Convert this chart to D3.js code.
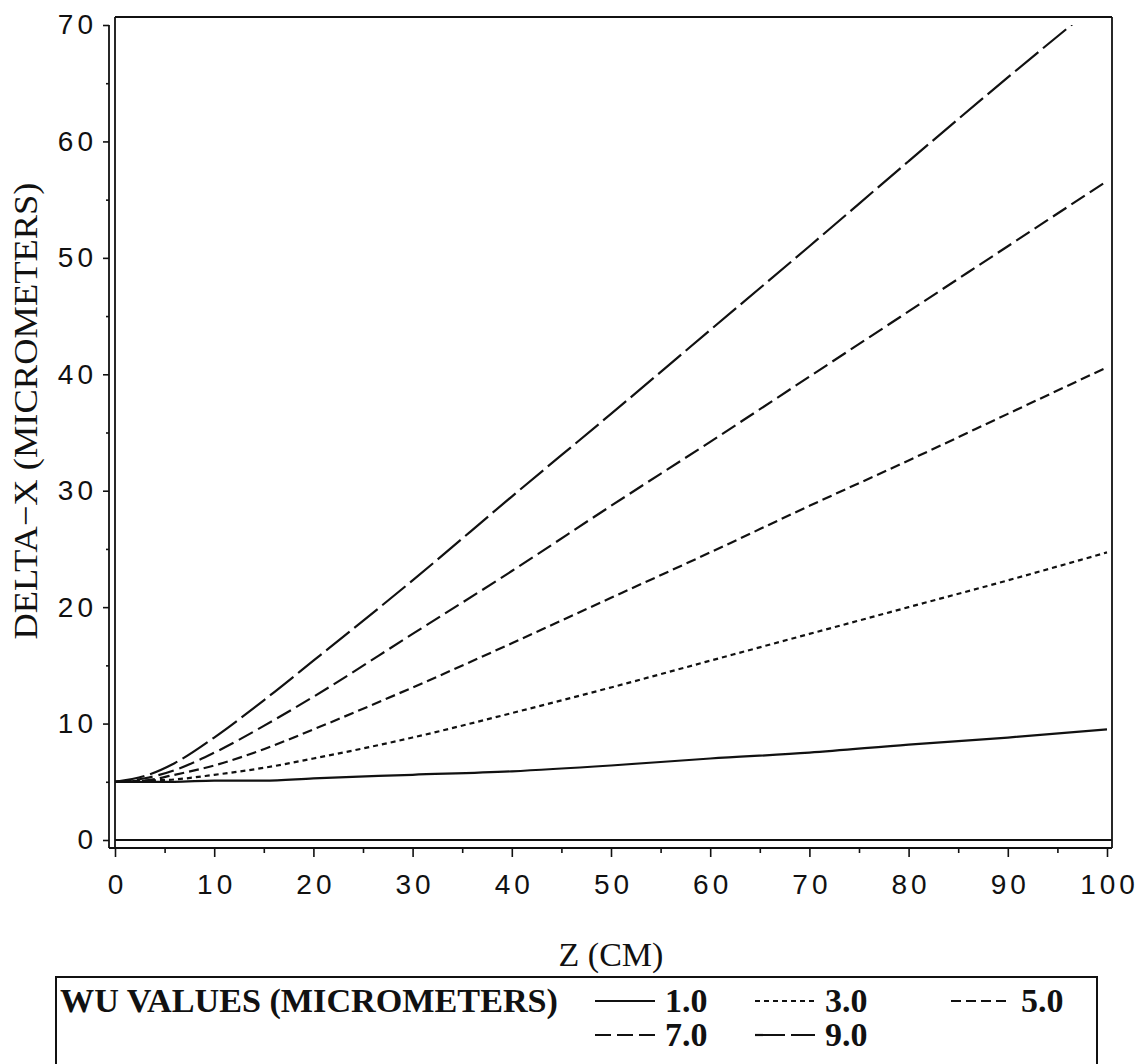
<!DOCTYPE html>
<html>
<head>
<meta charset="utf-8">
<script src="https://cdn.jsdelivr.net/npm/d3@7"></script>
<style>
  body { margin: 0; background: #fff; }
  .tick text { font-family: "Liberation Sans", Arial, sans-serif; font-size: 28px; letter-spacing: 4px; fill: #111; }
  .tick line { stroke: #111; stroke-width: 1.6; }
  .axisTitle { font-family: "Liberation Serif", "Times New Roman", serif; font-size: 34px; fill: #111; }
  .legendText { font-family: "Liberation Serif", "Times New Roman", serif; font-size: 34px; font-weight: bold; fill: #111; }
</style>
</head>
<body>
<div id="chart"></div>
<script>
'use strict';

//data ==========================================================
const zValues = [0, 3, 6, 10, 15, 20, 30, 40, 50, 60, 70, 80, 90, 100];
const wu1 = [5.0, 5.0, 5.0, 5.1, 5.1, 5.3, 5.6, 5.9, 6.4, 7.0, 7.5, 8.2, 8.8, 9.5];
const wu3 = [5.0, 5.1, 5.2, 5.6, 6.2, 7.0, 8.8, 10.9, 13.1, 15.4, 17.7, 20.0, 22.3, 24.7];
const wu5 = [5.0, 5.1, 5.6, 6.4, 7.8, 9.5, 13.1, 16.9, 20.8, 24.7, 28.7, 32.6, 36.6, 40.6];
const wu7 = [5.0, 5.3, 6.0, 7.5, 9.8, 12.3, 17.7, 23.1, 28.7, 34.2, 39.8, 45.4, 51.0, 56.6];
const wu9 = [5.0, 5.5, 6.6, 8.8, 12.0, 15.4, 22.3, 29.5, 36.6, 43.8, 51.0, 58.3, 65.5, 72.5];
const wuLabels = ['1.0', '3.0', '5.0', '7.0', '9.0'];
const xTicks = [0, 10, 20, 30, 40, 50, 60, 70, 80, 90, 100];
const yTicks = [0, 10, 20, 30, 40, 50, 60, 70];

//line styles (solid, dots, short dash, medium dash, long dash)
const dashes = [null, '5,4', '10,5', '16,6', '30,6'];

let width = 1143;
let height = 1064;

let svg = d3.select('#chart')
  .append('svg')
  .attr('width', width)
  .attr('height', height)
  .style('background', '#fff');

//frame edges
let frameL = 115, frameR = 1112, frameT = 17, frameB = 848;
let axisX = 109;

let xScale = d3.scaleLinear().domain([0, 100]).range([115, 1107]);
let yScale = d3.scaleLinear().domain([0, 70]).range([840, 25]);

//y axis ===========================================================
let yAxis = d3.axisLeft(yScale).tickValues(yTicks).tickSize(6).tickPadding(6);
let yMinor = d3.axisLeft(yScale).tickValues(d3.range(5, 70, 10)).tickSize(3).tickFormat('');

let yg = svg.append('g').attr('transform', `translate(${axisX},0)`).call(yAxis);
yg.select('.domain').remove();
let ym = svg.append('g').attr('transform', `translate(${axisX},0)`).call(yMinor);
ym.select('.domain').remove();

//x axis ===========================================================
let xAxis = d3.axisBottom(xScale).tickValues(xTicks).tickSize(9).tickPadding(17);
let xMinor = d3.axisBottom(xScale).tickValues(d3.range(5, 100, 10)).tickSize(5).tickFormat('');

let xg = svg.append('g').attr('transform', `translate(0,${frameB})`).call(xAxis);
xg.select('.domain').remove();
xg.selectAll('text').attr('dx', '2px');
let xm = svg.append('g').attr('transform', `translate(0,${frameB})`).call(xMinor);
xm.select('.domain').remove();

//frame and axis lines
let lineStyle = sel => sel.attr('stroke', '#111').attr('stroke-width', 1.8);
svg.append('line').attr('x1', axisX).attr('x2', axisX).attr('y1', yScale(70)).attr('y2', frameB).call(lineStyle);
svg.append('line').attr('x1', frameL).attr('x2', frameL).attr('y1', frameT).attr('y2', frameB).call(lineStyle);
svg.append('line').attr('x1', frameR).attr('x2', frameR).attr('y1', frameT).attr('y2', frameB).call(lineStyle);
svg.append('line').attr('x1', frameL).attr('x2', frameR).attr('y1', frameT).attr('y2', frameT).call(lineStyle);
svg.append('line').attr('x1', axisX).attr('x2', frameR).attr('y1', frameB).attr('y2', frameB).call(lineStyle);
//zero reference line
svg.append('line').attr('x1', frameL).attr('x2', frameR).attr('y1', yScale(0)).attr('y2', yScale(0)).call(lineStyle);

//axis titles
svg.append('text')
  .attr('class', 'axisTitle')
  .attr('text-anchor', 'middle')
  .attr('transform', 'translate(37,411)rotate(-90)')
  .attr('textLength', 457)
  .attr('lengthAdjust', 'spacingAndGlyphs')
  .text('DELTA\u2212X (MICROMETERS)');

svg.append('text')
  .attr('class', 'axisTitle')
  .attr('text-anchor', 'middle')
  .attr('x', 611)
  .attr('y', 966)
  .text('Z (CM)');

//curves ===========================================================
svg.append('clipPath').attr('id', 'plotClip')
  .append('rect')
  .attr('x', frameL).attr('y', yScale(70))
  .attr('width', frameR - frameL).attr('height', frameB - yScale(70));

let series = [wu1, wu3, wu5, wu7, wu9];
let line = d3.line()
  .x((d, i) => xScale(zValues[i]))
  .y(d => yScale(d))
  .curve(d3.curveMonotoneX);

svg.append('g').attr('clip-path', 'url(#plotClip)')
  .selectAll('path')
  .data(series)
  .enter()
  .append('path')
  .attr('d', d => line(d))
  .attr('fill', 'none')
  .attr('stroke', '#111')
  .attr('stroke-width', 2.2)
  .attr('stroke-dasharray', (d, i) => dashes[i]);

//legend ===========================================================
svg.append('rect')
  .attr('x', 56).attr('y', 977)
  .attr('width', 1097 - 56).attr('height', 120)
  .attr('fill', 'none')
  .attr('stroke', '#111')
  .attr('stroke-width', 2);

svg.append('text')
  .attr('class', 'legendText')
  .attr('x', 60)
  .attr('y', 1012)
  .attr('textLength', 498)
  .attr('lengthAdjust', 'spacingAndGlyphs')
  .text('WU VALUES (MICROMETERS)');

//label x of each legend column and baseline of each row
let colX = [665, 825, 1021];
let rowY = [1012, 1046];

let items = svg.selectAll('g.legendItem')
  .data(wuLabels)
  .enter()
  .append('g')
  .attr('class', 'legendItem')
  .attr('transform', (d, i) => `translate(${colX[i % 3]},${rowY[Math.floor(i / 3)]})`);

items.append('line')
  .attr('x1', -70).attr('x2', -10)
  .attr('y1', -11).attr('y2', -11)
  .attr('stroke', '#111')
  .attr('stroke-width', 2.2)
  .attr('stroke-dasharray', (d, i) => dashes[i]);

items.append('text')
  .attr('class', 'legendText')
  .attr('x', 0)
  .attr('y', 0)
  .text(d => d);
</script>
</body>
</html>
